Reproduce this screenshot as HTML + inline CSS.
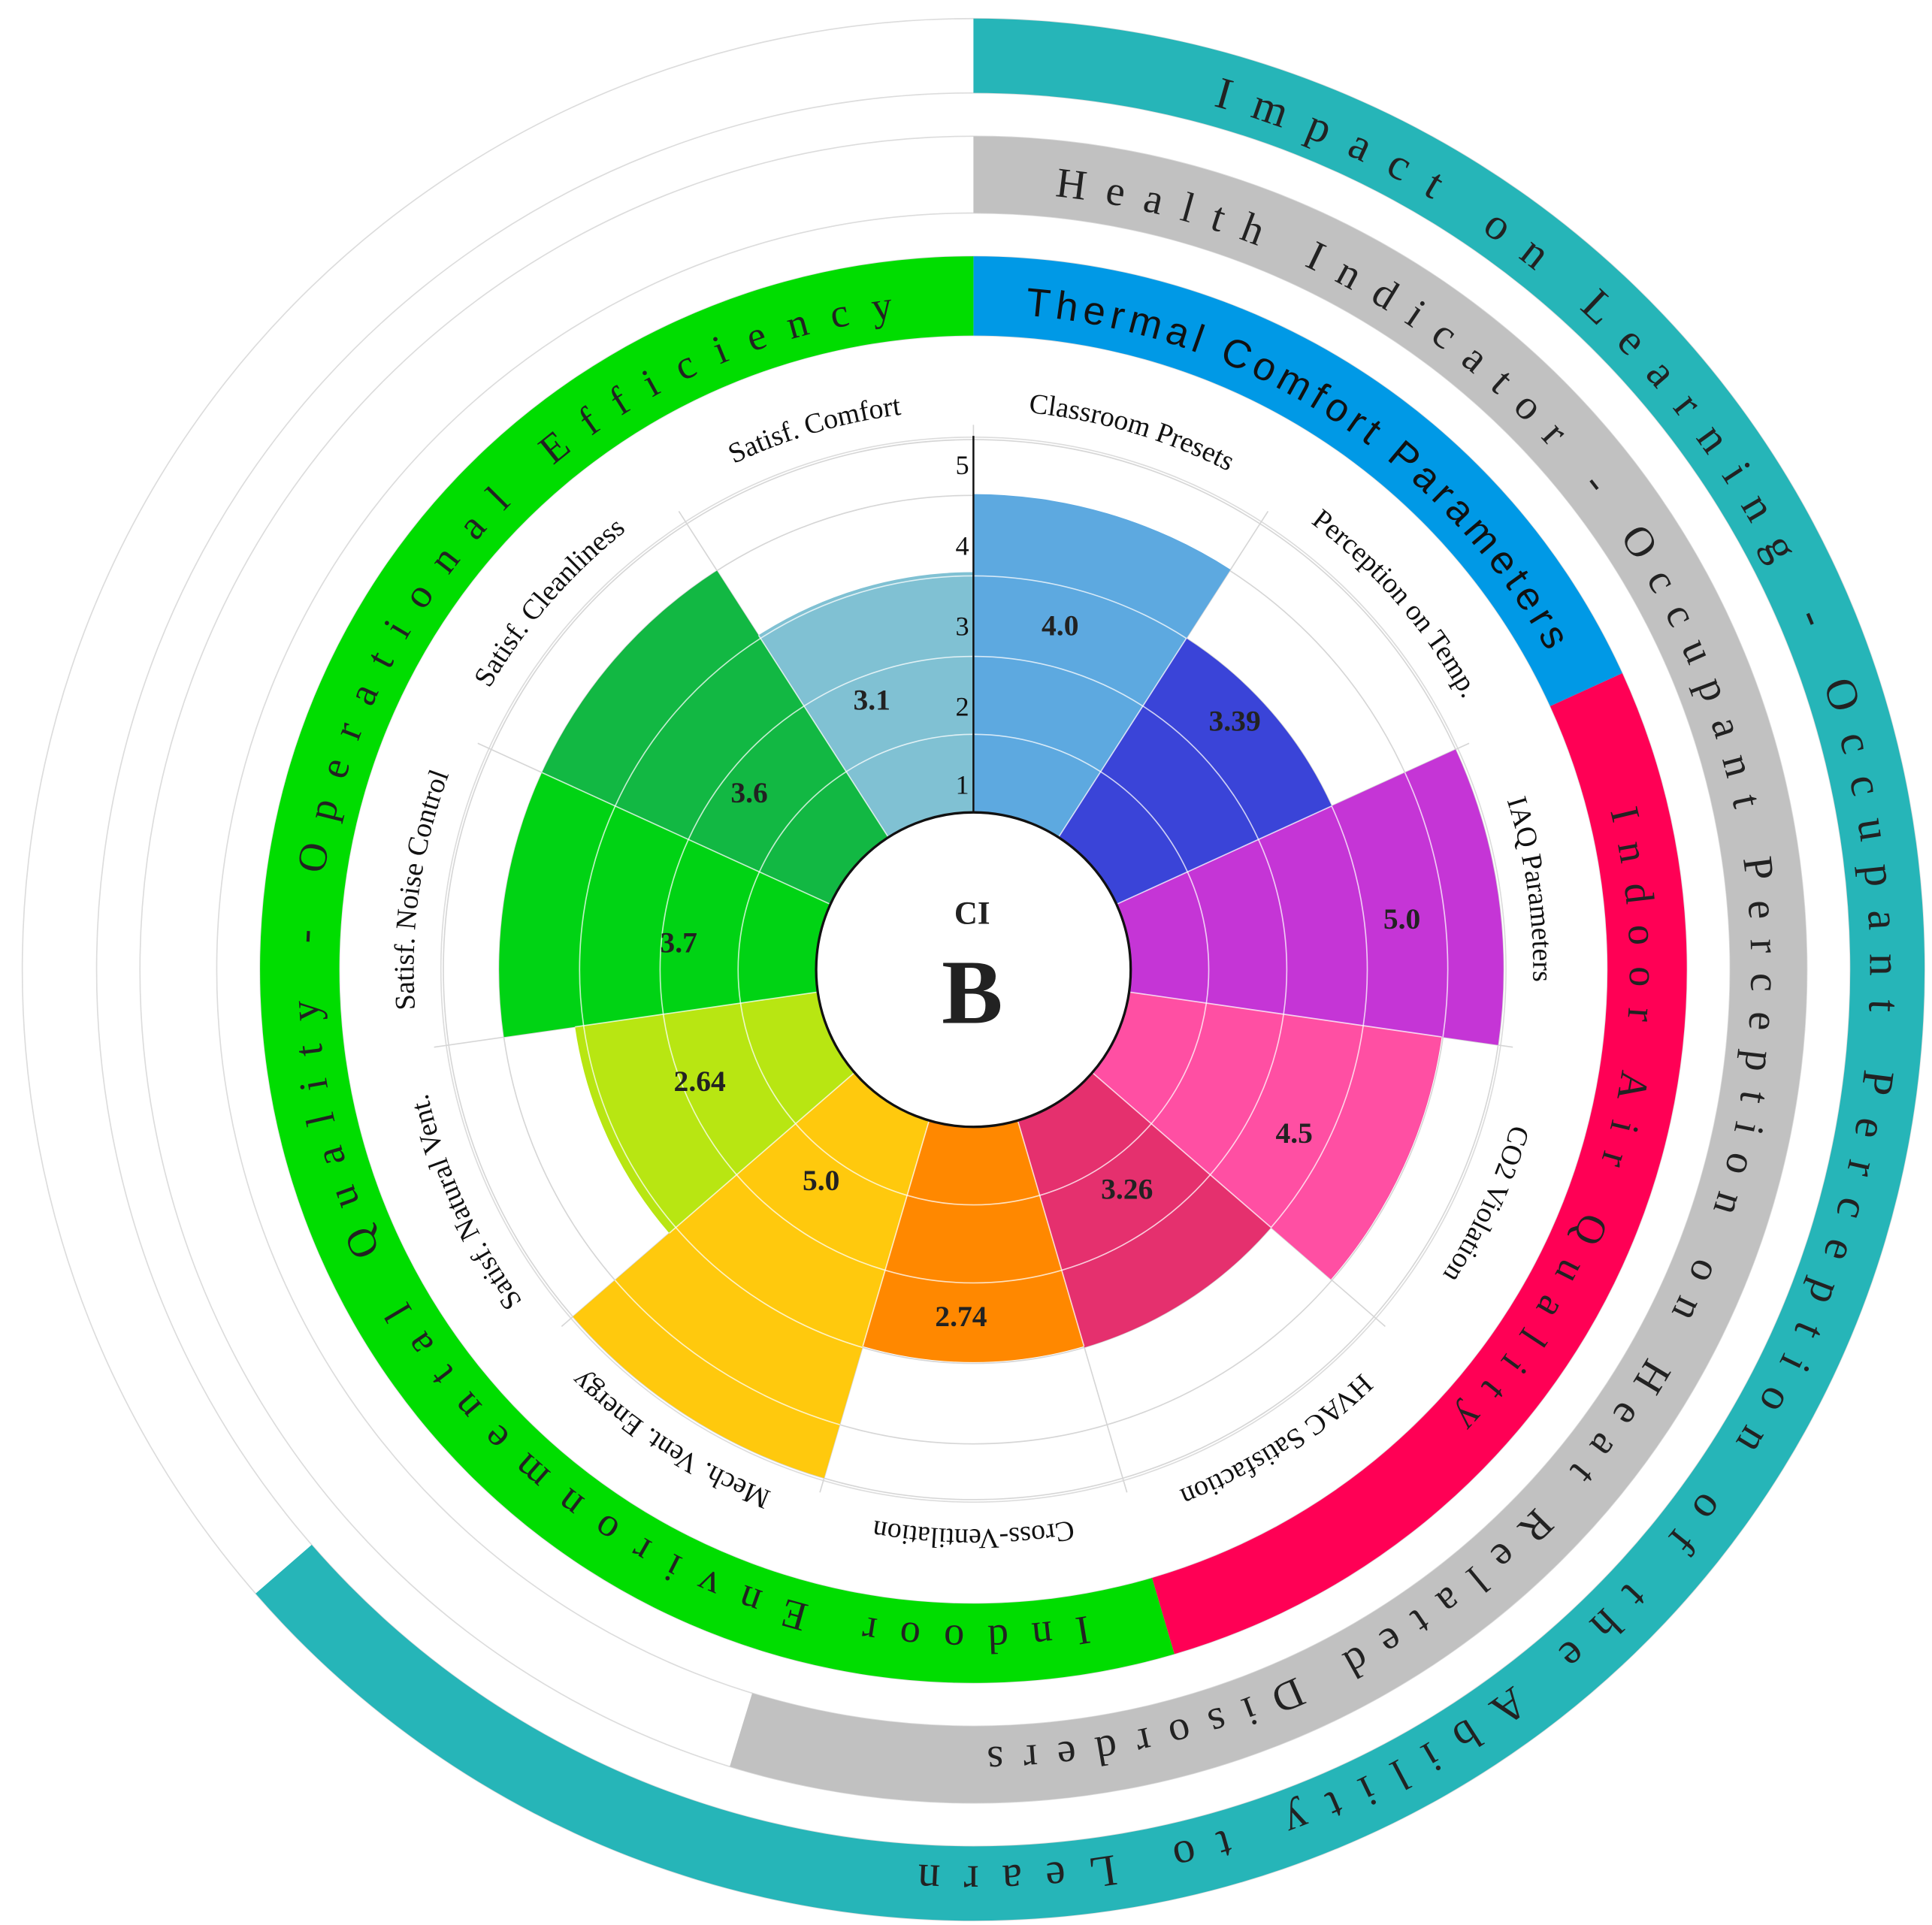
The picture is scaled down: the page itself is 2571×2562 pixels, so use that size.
<!DOCTYPE html>
<html><head><meta charset="utf-8">
<style>
html,body{margin:0;padding:0;background:#fff;}
svg{display:block;}
.serif{font-family:"Liberation Serif",serif;}
.sans{font-family:"Liberation Sans",sans-serif;}
</style></head>
<body>
<svg id="s" xmlns="http://www.w3.org/2000/svg" width="2571" height="2562" viewBox="0 0 1560 1554.5">
<defs id="d"></defs>
<g id="g"></g>
</svg>
<script>
const NS="http://www.w3.org/2000/svg";
const cx=786,cy=783;
const g=document.getElementById('g'),defs=document.getElementById('d');
function P(r,a){const t=a*Math.PI/180;return [cx+r*Math.sin(t),cy-r*Math.cos(t)];}
function el(tag,attrs,parent,txt){const e=document.createElementNS(NS,tag);for(const k in attrs)e.setAttribute(k,attrs[k]);if(txt!=null)e.textContent=txt;(parent||g).appendChild(e);return e;}
function annulus(r1,r2,a0,a1){
  const large=(a1-a0)>180?1:0;
  const p1=P(r2,a0),p2=P(r2,a1),p3=P(r1,a1),p4=P(r1,a0);
  return `M${p1} A${r2},${r2} 0 ${large} 1 ${p2} L${p3} A${r1},${r1} 0 ${large} 0 ${p4} Z`;
}
function arcPath(r,a0,a1){const large=(a1-a0)>180?1:0;const p1=P(r,a0),p2=P(r,a1);return `M${p1} A${r},${r} 0 ${large} 1 ${p2}`;}
let pid=0;
function arcText(r,a0,a1,txt,opts){
  const id='p'+(pid++);
  el('path',{id:id,d:arcPath(r,a0,a1),fill:'none'},defs);
  const t=el('text',{'class':opts.cls||'serif','font-size':opts.fs,fill:opts.fill||'#111','font-weight':opts.fw||'normal'});
  const tp=el('textPath',{href:'#'+id},t,txt);
  if(opts.center){tp.setAttribute('startOffset','50%');t.setAttribute('text-anchor','middle');}
  if(opts.len){tp.setAttribute('textLength',opts.len);tp.setAttribute('lengthAdjust','spacing');}
  if(opts.ls)t.setAttribute('letter-spacing',opts.ls);
}
// faint circles
[430,512,576,611,673,708,768].forEach(r=>el('circle',{cx,cy,r,fill:'none',stroke:'#dcdcdc','stroke-width':1}));
// rings
el('path',{d:annulus(708,768,0,229),fill:'#26B5B8'});
el('path',{d:annulus(611,673,0,197),fill:'#C1C1C1'});
el('path',{d:annulus(512,576,0,65.45),fill:'#0099E6'});
el('path',{d:annulus(512,576,65.45,163.64),fill:'#FF0055'});
el('path',{d:annulus(512,576,163.64,360),fill:'#00DD00'});
// grid under
const grid=[190,253,318,383,428];
grid.forEach(r=>el('circle',{cx,cy,r,fill:'none',stroke:'#d6d6d6','stroke-width':1}));
const S=360/11;
for(let k=0;k<11;k++){const a=P(127,k*S),b=P(440,k*S);el('line',{x1:a[0],y1:a[1],x2:b[0],y2:b[1],stroke:'#d6d6d6','stroke-width':1});}
// wedges
const W=[['#5DA9E0',384],['#3A44D8',318],['#C535D6',428],['#FF4FA3',382],['#E5306E',318],['#FF8800',317],['#FFC90D',428],['#B8E612',325],['#00D314',383],['#12B843',383],['#80C1D3',321]];
W.forEach((w,k)=>el('path',{d:annulus(127,w[1],k*S,(k+1)*S),fill:w[0]}));
// white grid over wedges
W.forEach((w,k)=>{grid.forEach(r=>{if(r<w[1]-2)el('path',{d:arcPath(r,k*S,(k+1)*S),fill:'none',stroke:'#fff','stroke-opacity':0.75,'stroke-width':1});});
  const a=P(127,k*S),b=P(Math.min(w[1],W[(k+10)%11][1]),k*S);el('line',{x1:a[0],y1:a[1],x2:b[0],y2:b[1],stroke:'#fff','stroke-opacity':0.75,'stroke-width':1});});
// axis
el('line',{x1:786,y1:352,x2:786,y2:656,stroke:'#111','stroke-width':1.5});
[['5',375],['4',440],['3',505],['2',570],['1',633]].forEach(t=>el('text',{x:777,y:t[1]+8,'class':'serif','font-size':22,'text-anchor':'middle',fill:'#111'},null,t[0]));
// center
el('circle',{cx,cy,r:127,fill:'#fff',stroke:'#111','stroke-width':2});
el('text',{x:785,y:746,'class':'serif','font-size':26,'font-weight':'bold','text-anchor':'middle',fill:'#222'},null,'CI');
el('text',{x:785,y:826,'class':'serif','font-size':74,'font-weight':'bold','text-anchor':'middle',fill:'#222'},null,'B');
// value labels
[['4.0',856,505],['3.39',997,582],['5.0',1132,742],['4.5',1045,915],['3.26',910,960],['2.74',776,1063],['5.0',663,953],['2.64',565,873],['3.7',548,761],['3.6',605,640],['3.1',704,565]]
.forEach(v=>el('text',{x:v[1],y:v[2]+8,'class':'serif','font-size':24,'font-weight':'bold','text-anchor':'middle',fill:'#222'},null,v[0]));
// sector labels
const L=['Classroom Presets','Perception on Temp.','IAQ Parameters','CO2 Violation','HVAC Satisfaction','Cross-Ventilation','Mech. Vent. Energy','Satisf. Natural Vent.','Satisf. Noise Control','Satisf. Cleanliness','Satisf. Comfort'];
L.forEach((t,k)=>arcText(452,k*S-20,(k+1)*S+20,t,{fs:23,center:true,fill:'#111'}));
// ring texts
arcText(724,15.5,183.5,'Impact on Learning - Occupant Perception of the Ability to Learn',{fs:36,len:724*(168*Math.PI/180),fill:'#222'});
arcText(628,6,179,'Health Indicator - Occupant Perception on Heat Related Disorders',{fs:34,len:628*(173*Math.PI/180),fill:'#222'});
arcText(530,4.5,61,'Thermal Comfort Parameters',{fs:32,cls:'sans',len:530*(56.5*Math.PI/180),fill:'#111'});
arcText(530,76,133,'Indoor Air Quality',{fs:33,len:530*(57*Math.PI/180),fill:'#222'});
arcText(530,170,353,'Indoor Environmental Quality - Operational Efficiency',{fs:33,len:530*(183*Math.PI/180),fill:'#222'});
</script>
</body></html>
